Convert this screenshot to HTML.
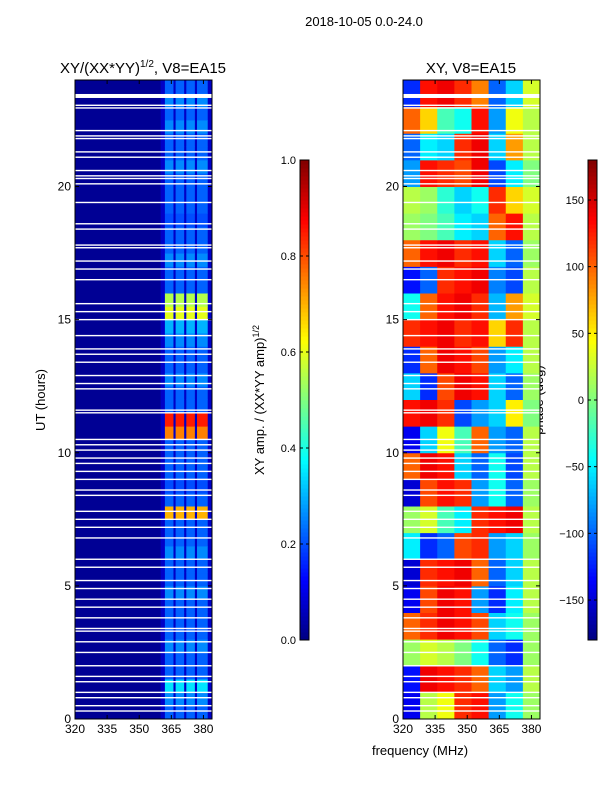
<!DOCTYPE html>
<html><head><meta charset="utf-8"><style>
body{margin:0;background:#fff;}
svg{font-family:"Liberation Sans",sans-serif;}
</style></head><body>
<svg id="c" width="600" height="800" xmlns="http://www.w3.org/2000/svg">
<text x="364" y="26" font-size="13" text-anchor="middle">2018-10-05 0.0-24.0</text>
<text x="143" y="73" font-size="15" text-anchor="middle">XY/(XX*YY)<tspan dy="-6" font-size="10">1/2</tspan><tspan dy="6">, V8=EA15</tspan></text>
<text x="471" y="73" font-size="15" text-anchor="middle">XY, V8=EA15</text>
<text transform="translate(45,400) rotate(-90)" font-size="13" text-anchor="middle">UT (hours)</text>
<text transform="translate(264,400) rotate(-90)" font-size="13" text-anchor="middle">XY amp. / (XX*YY amp)<tspan dy="-5" font-size="9">1/2</tspan></text>
<text transform="translate(543,400) rotate(-90)" font-size="13" text-anchor="middle">phase (deg)</text>
<text x="420" y="755" font-size="13" text-anchor="middle">frequency (MHz)</text>
<g id="g"></g>
</svg>
<script>
const freqTicks=[320,335,350,365,380];
const utTicks=[0,5,10,15,20];
const ampTicks=[0.0,0.2,0.4,0.6,0.8,1.0];
const phaseTicks=[-150,-100,-50,0,50,100,150];
const phaseBands=[320,328,336,344,352,360,368,376,384];
// phase rows, hour 0 .. 23
const phase=[
[-140,20,40,120,130,-80,-40,10],
[-130,140,130,120,100,-60,-80,20],
[10,30,20,0,-40,-100,-120,10],
[100,120,140,130,110,-60,-40,10],
[-140,110,140,130,-80,-120,-50,20],
[-150,120,130,140,100,-100,-60,20],
[-50,-120,-100,110,120,-80,-60,10],
[10,30,-20,-50,120,130,140,20],
[-150,110,130,120,-80,-40,-100,10],
[100,140,130,-60,-100,-40,-110,20],
[-140,-60,40,-20,100,-80,-100,20],
[130,140,120,-110,-80,-60,50,0],
[-60,-120,110,140,130,-60,-100,10],
[-120,100,140,130,110,-80,-50,20],
[120,130,140,120,130,60,120,20],
[-40,100,130,140,120,-70,80,30],
[-130,-100,120,130,140,-90,-110,20],
[100,130,140,120,130,-60,-100,10],
[10,0,-20,-50,-60,100,130,20],
[20,10,-30,-60,-40,120,60,30],
[-80,130,120,110,140,-110,-50,0],
[-100,-50,-60,120,140,-60,80,20],
[100,60,-20,-40,130,-80,40,20],
[-120,130,140,120,90,-100,-60,30]];
const ampCols=[[362,366],[367,371],[372,376],[377,382]];
// half-hour amplitude of bright channels, from 0h
const amp=[0.22,0.26,0.35,0.22,0.22,0.26,0.22,0.22,0.22,0.26,0.22,0.22,0.26,0.22,0.22,0.7,0.22,0.2,0.22,0.22,0.22,0.75,0.85,0.22,0.22,0.26,0.22,0.22,0.26,0.3,0.6,0.55,0.22,0.22,0.26,0.22,0.22,0.2,0.22,0.22,0.22,0.26,0.22,0.22,0.26,0.22,0.26,0.22];
const ampBg=0.02, ampBand=0.07;
const gaps=[23.4,23.05,22.95,22.1,21.9,21.8,21.3,21.1,20.6,20.4,20.3,20.1,19.4,18.6,18.4,17.8,17.7,17.2,16.9,16.5,15.6,15.3,15.0,14.4,13.9,13.7,13.4,12.9,12.6,12.4,11.6,11.5,10.5,10.3,10.1,9.8,9.6,9.3,9.0,8.6,8.4,7.8,7.5,7.2,6.8,6.0,5.7,5.2,4.9,4.5,4.2,3.8,3.4,3.3,2.9,2.5,2.0,1.6,1.4,1.0,0.8,0.5,0.3];

const NS="http://www.w3.org/2000/svg";
const g=document.getElementById('g');
function mk(t,a,p){const e=document.createElementNS(NS,t);for(const k in a)e.setAttribute(k,a[k]);(p||g).appendChild(e);return e;}
function jet(v){v=Math.max(0,Math.min(1,v));
 const r=Math.max(0,Math.min(1,1.5-Math.abs(4*v-3))),gg=Math.max(0,Math.min(1,1.5-Math.abs(4*v-2))),b=Math.max(0,Math.min(1,1.5-Math.abs(4*v-1)));
 return `rgb(${Math.round(r*255)},${Math.round(gg*255)},${Math.round(b*255)})`;}
const yT=80,yB=719;
function yUT(h){return yB-(h/24)*(yB-yT);}
function xL(f){return 75+(f-320)*(137/64);}
function xR(f){return 403+(f-320)*(137/64);}

const L=mk('g',{});
mk('rect',{x:75,y:yT,width:137,height:yB-yT,fill:jet(ampBg)},L);
mk('rect',{x:xL(360),y:yT,width:xL(384)-xL(360),height:yB-yT,fill:jet(ampBand)},L);
amp.forEach((v,i)=>{ampCols.forEach(c=>{
 const r=mk('rect',{x:xL(c[0]),y:yUT((i+1)/2),width:xL(c[1])-xL(c[0]),height:yUT(i/2)-yUT((i+1)/2)+0.5,fill:jet(v)},L);
 });});
const R=mk('g',{});
phase.forEach((row,i)=>{row.forEach((v,j)=>{
 const r=mk('rect',{x:xR(phaseBands[j]),y:yUT(i+1),width:xR(phaseBands[j+1])-xR(phaseBands[j])+0.5,height:yUT(i)-yUT(i+1)+0.5,fill:jet((v+180)/360)},R);
 });});
gaps.forEach((h,i)=>{const th=(i===0)?4:1.4;
 [75,403].forEach(x0=>{const r=mk('rect',{x:x0,y:yUT(h)-th/2,width:137,height:th,fill:'#fff'});
 });});

function axes(x0,xf,name){
 const fr=mk('rect',{x:x0,y:yT,width:137,height:yB-yT,fill:'none',stroke:'#000','stroke-width':1});
 
 freqTicks.forEach(f=>{const x=xf(f);
  mk('line',{x1:x,x2:x,y1:yB,y2:yB-4,stroke:'#000'});mk('line',{x1:x,x2:x,y1:yT,y2:yT+4,stroke:'#000'});
  const t=mk('text',{x:x,y:yB+14,'font-size':12,'text-anchor':'middle'});t.textContent=f;
  });
 utTicks.forEach(h=>{const y=yUT(h);
  mk('line',{x1:x0,x2:x0+4,y1:y,y2:y,stroke:'#000'});mk('line',{x1:x0+137,x2:x0+133,y1:y,y2:y,stroke:'#000'});
  const t=mk('text',{x:x0-4,y:y+4,'font-size':12,'text-anchor':'end'});t.textContent=h;
  });
}
axes(75,xL,'amp-panel');axes(403,xR,'phase-panel');

function cbar(x0,ticks,lo,hi,name,fmt){
 const cg=mk('g',{});
 const y1=160,y2=640,n=120;
 for(let i=0;i<n;i++){mk('rect',{x:x0,y:y2-(i+1)*(y2-y1)/n,width:9,height:(y2-y1)/n+0.5,fill:jet((i+0.5)/n)},cg);}
 mk('rect',{x:x0,y:y1,width:9,height:y2-y1,fill:'none',stroke:'#000'},cg);
 ticks.forEach(v=>{const y=y2-(v-lo)/(hi-lo)*(y2-y1);
  mk('line',{x1:x0,x2:x0+3,y1:y,y2:y,stroke:'#000'},cg);mk('line',{x1:x0+9,x2:x0+6,y1:y,y2:y,stroke:'#000'},cg);
  const t=mk('text',{x:x0-4,y:y+4,'font-size':11,'text-anchor':'end'},cg);t.textContent=fmt(v);
  });
}
cbar(300,ampTicks,0,1,'amp-colorbar',v=>v.toFixed(1));
cbar(588,phaseTicks,-180,180,'phase-colorbar',v=>v<0?'\u2212'+(-v):''+v);
</script>
</body></html>
